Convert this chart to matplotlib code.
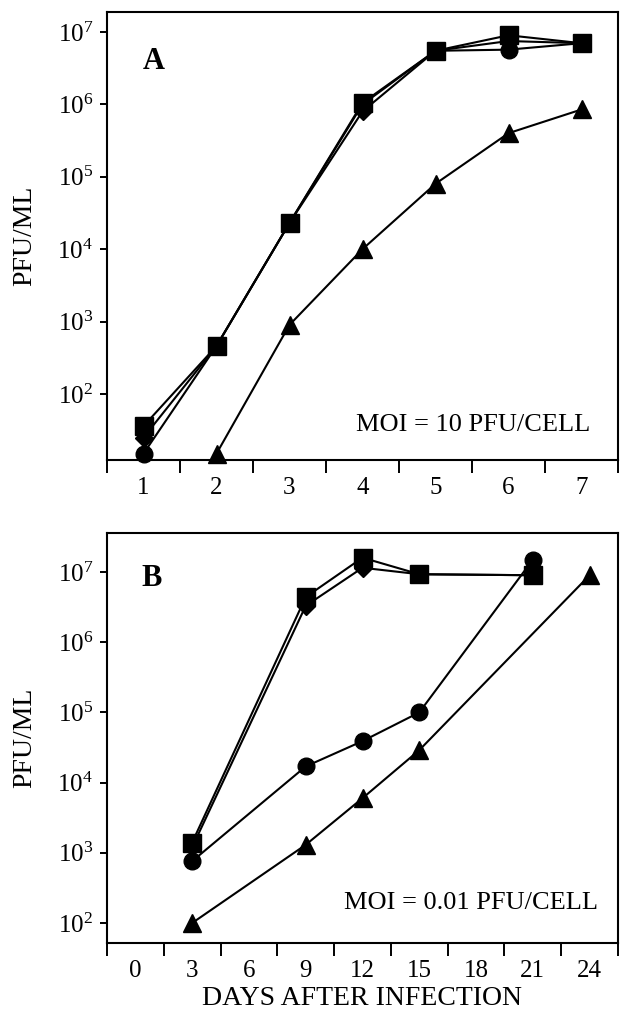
import matplotlib
matplotlib.use("Agg")
import matplotlib.pyplot as plt
import numpy as np

plt.rcParams['font.family'] = ['Liberation Serif', 'DejaVu Serif']
plt.rcParams['mathtext.default'] = 'regular'

# ---------------- data ----------------
# Panel A: MOI = 10 PFU/cell
days_A = [1, 2, 3, 4, 5, 6, 7]
square_A = [36, 460, 23000, 1.05e6, 5.5e6, 9.0e6, 7.0e6]
diamond_A = [25, 460, 23000, 8.0e5, 5.5e6, 7.5e6, 7.0e6]
circle_A = [15, 460, 23000, 1.0e6, 5.5e6, 5.7e6, 7.0e6]
days_tri_A = [2, 3, 4, 5, 6, 7]
triangle_A = [15, 900, 1.0e4, 8.0e4, 4.0e5, 8.5e5]

# Panel B: MOI = 0.01 PFU/cell
days_B = [3, 9, 12, 15, 21]
square_B = [1400, 4.4e6, 1.6e7, 9.3e6, 9.0e6]
diamond_B = [1200, 3.3e6, 1.15e7, 9.3e6, 9.0e6]
circle_B = [760, 1.7e4, 3.9e4, 1.0e5, 1.5e7]
days_tri_B = [3, 9, 12, 15, 24]
triangle_B = [100, 1300, 6000, 2.9e4, 9.0e6]

xlabels_A = ['1', '2', '3', '4', '5', '6', '7']
xlabels_B = ['0', '3', '6', '9', '12', '15', '18', '21', '24']
ytick_exps_A = [2, 3, 4, 5, 6, 7]
ytick_exps_B = [2, 3, 4, 5, 6, 7]

W, H = 630, 1018
fig = plt.figure(figsize=(W / 100, H / 100), dpi=100)

def box(l, t, r, b):
    return [l / W, 1 - b / H, (r - l) / W, (b - t) / H]

axA = fig.add_axes(box(107, 12, 618, 460))
axB = fig.add_axes(box(107, 533, 618, 943))

lw = 1.5
def plot_series(ax, x, y, marker, ms):
    ax.plot(x, y, color='black', lw=lw, marker=marker, ms=ms,
            markerfacecolor='black', markeredgecolor='black', clip_on=False, zorder=3)

for ax, sets in [
    (axA, [(days_A, circle_A, 'o', 12), (days_A, diamond_A, 'D', 9),
           (days_tri_A, triangle_A, '^', 13.5), (days_A, square_A, 's', 13)]),
    (axB, [(days_B, circle_B, 'o', 12), (days_B, diamond_B, 'D', 9),
           (days_tri_B, triangle_B, '^', 13.5), (days_B, square_B, 's', 13)]),
]:
    for x, y, m, ms in sets:
        plot_series(ax, x, y, m, ms)

def style(ax, exps):
    ax.set_yscale('log')
    ax.set_yticks([10.0 ** e for e in exps])
    ax.set_yticklabels(['$10^{%d}$' % e for e in exps])
    ax.yaxis.set_minor_locator(matplotlib.ticker.NullLocator())
    ax.tick_params(axis='y', which='major', direction='out', length=5, width=1.4,
                   labelsize=18, pad=5)
    for s in ax.spines.values():
        s.set_linewidth(1.5)
    ax.set_ylabel('PFU/ML', fontsize=20)
    ax.yaxis.set_label_coords(-0.137, 0.5)

def style_x(ax):
    ax.tick_params(axis='x', which='major', length=0, labelsize=18, pad=12)
    ax.tick_params(axis='x', which='minor', direction='out', length=9, width=1.4)

# Panel A axes
axA.set_xlim(0.5, 7.5)
axA.set_ylim(10 ** 1.088, 10 ** 7.276)
axA.set_xticks(days_A)
axA.set_xticklabels(xlabels_A)
axA.set_xticks(np.arange(0.5, 8.0, 1.0), minor=True)
style(axA, ytick_exps_A)
style_x(axA)
axA.text(0.092, 0.89, 'A', transform=axA.transAxes, fontsize=22, fontweight='bold',
         ha='center', va='center')
axA.text(0.945, 0.078, 'MOI = 10 PFU/CELL', transform=axA.transAxes, fontsize=19,
         ha='right', va='center')

# Panel B axes
axB.set_xlim(-1.5, 25.5)
axB.set_ylim(10 ** 1.715, 10 ** 7.556)
xt_B = [int(v) for v in xlabels_B]
axB.set_xticks(xt_B)
axB.set_xticklabels(xlabels_B)
axB.set_xticks(np.arange(-1.5, 26.0, 3.0), minor=True)
style(axB, ytick_exps_B)
style_x(axB)
axB.text(0.088, 0.888, 'B', transform=axB.transAxes, fontsize=22, fontweight='bold',
         ha='center', va='center')
axB.text(0.961, 0.098, 'MOI = 0.01 PFU/CELL', transform=axB.transAxes, fontsize=19,
         ha='right', va='center')
axB.set_xlabel('DAYS AFTER INFECTION', fontsize=20, labelpad=3)

fig.savefig('out.png', dpi=100)
